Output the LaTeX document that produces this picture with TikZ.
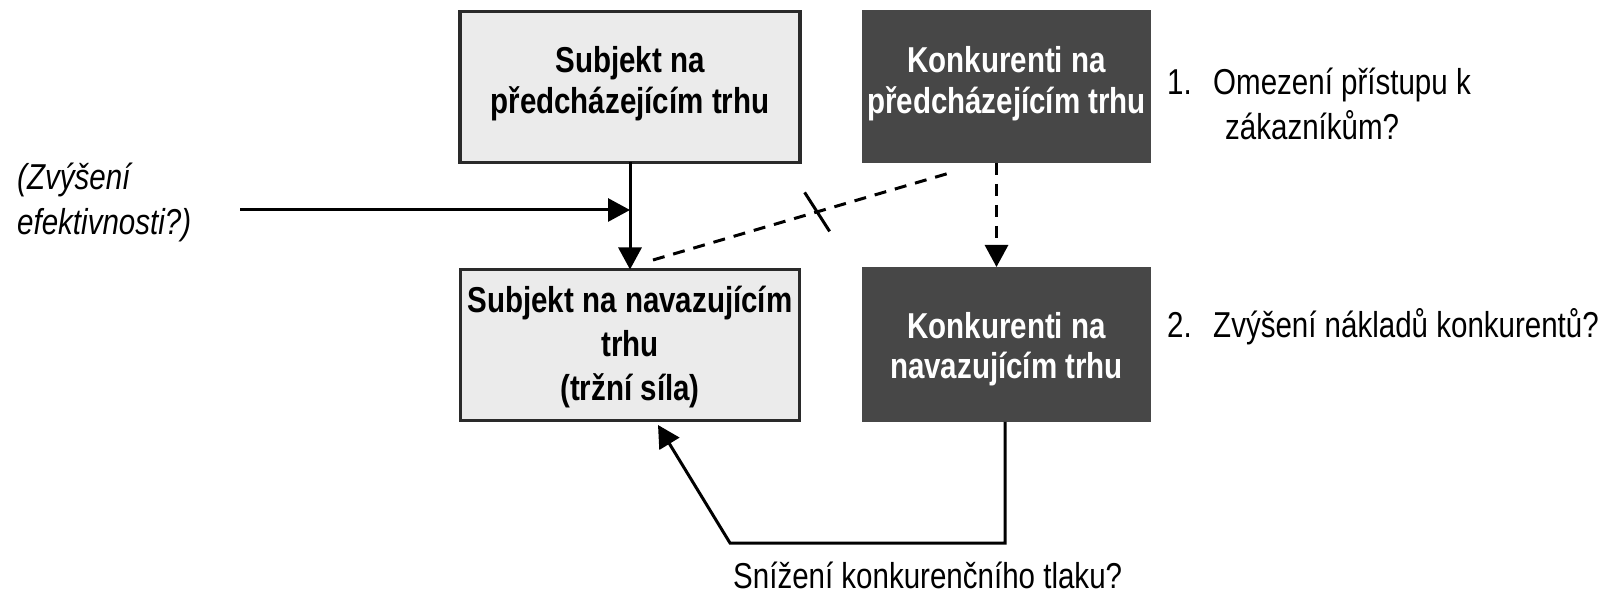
\documentclass[tikz,border=0pt]{standalone}
\usepackage{fontspec}
\setmainfont{Liberation Sans}[FakeStretch=0.82]
\usetikzlibrary{arrows.meta}
\definecolor{lightfill}{HTML}{EBEBEB}
\definecolor{darkfill}{HTML}{474747}
\definecolor{edge}{HTML}{2A2A2A}
\begin{document}
\begin{tikzpicture}[x=1pt,y=-1pt,
  lbox/.style={draw=edge,fill=lightfill,line width=3.5pt,inner sep=0pt,outer sep=0pt,anchor=north west},
  dbox/.style={fill=darkfill,inner sep=0pt,outer sep=0pt,anchor=north west},
  btext/.style={font=\bfseries\fontsize{36}{40}\selectfont,anchor=base,inner sep=0pt},
  wtext/.style={btext,text=white},
  rtext/.style={font=\fontsize{36}{45}\selectfont,anchor=base west,inner sep=0pt},
  itext/.style={rtext,font=\itshape\fontsize{36}{45}\selectfont},
  arr/.style={line width=3pt,-{Triangle[length=22pt,width=23pt]}},
  dashline/.style={line width=3pt,dash pattern=on 12pt off 9pt},
  dasharr/.style={dashline,-{Triangle[length=22pt,width=23pt]}}]
\useasboundingbox (0,0) rectangle (1620,593);
% boxes
\node[lbox,minimum width=340pt,minimum height=151pt] (A) at (460,11.5) {};
\node[dbox,minimum width=289pt,minimum height=153pt] (B) at (862,10) {};
\node[lbox,minimum width=339pt,minimum height=151pt] (C) at (460.5,269.5) {};
\node[dbox,minimum width=289pt,minimum height=155pt] (D) at (862,267) {};
% box texts
\node[btext] (A1) at (630,73) {Subjekt na};
\node[btext] (A2) at (630,114) {předcházejícím trhu};
\node[wtext] (B1) at (1006.5,73) {Konkurenti na};
\node[wtext] (B2) at (1006.5,114) {předcházejícím trhu};
\node[btext] (C1) at (630,313) {Subjekt na navazujícím};
\node[btext] (C2) at (630,357) {trhu};
\node[btext] (C3) at (630,401) {(tržní síla)};
\node[wtext] (D1) at (1006.5,339) {Konkurenti na};
\node[wtext] (D2) at (1006.5,379) {navazujícím trhu};
% side texts
\node[rtext] (N1) at (1167,95) {1.};
\node[rtext] (T1a) at (1213,95) {Omezení přístupu k};
\node[rtext] (T1b) at (1225,140) {zákazníkům?};
\node[rtext] (N2) at (1167,338) {2.};
\node[rtext] (T2) at (1213,338) {Zvýšení nákladů konkurentů?};
\node[itext] (E1) at (17,190) {(Zvýšení};
\node[itext] (E2) at (17,235) {efektivnosti?)};
\node[rtext] (S) at (733,588) {Snížení konkurenčního tlaku?};
% connectors
\coordinate (L) at (240,210);
\draw[arr] (A.south) -- (C.north);
\draw[arr] (L) -- (L -| A.south);
\draw[dashline] ([xshift=23pt,yshift=9.5pt]C.north) -- ([xshift=-53.5pt,yshift=-9pt]B.south)
  coordinate[pos=0.547] (brk);
\draw[line width=3pt] (brk) ++(-12.5,-19.5) -- ++(25,39);
\draw[dasharr] ([xshift=-10pt]B.south) -- ([xshift=-10pt]D.north);
\coordinate (F) at (730,543);
\coordinate (Tip) at (658,425);
\draw[arr] ([xshift=-1.5pt]D.south) |- (F) -- (Tip);
\end{tikzpicture}
\end{document}
